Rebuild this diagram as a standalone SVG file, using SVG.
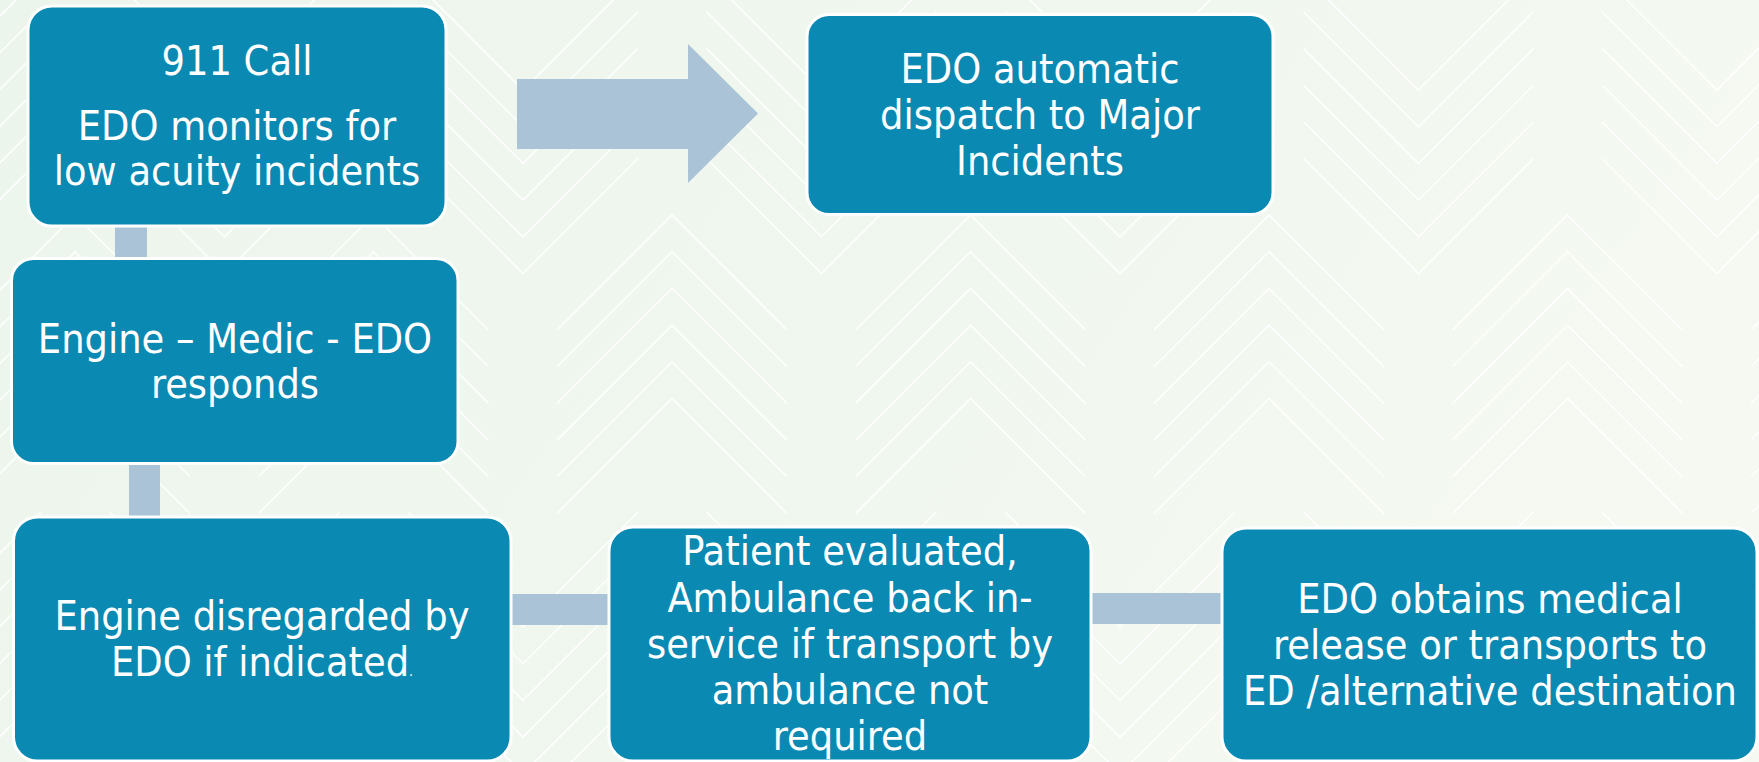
<svg xmlns="http://www.w3.org/2000/svg" xmlns:xlink="http://www.w3.org/1999/xlink" width="1759" height="762" viewBox="0 0 1759 762">
<defs>
<style>
.node rect{fill:#0A89B2;stroke:#FFFFFF;stroke-width:3}
.node text{font-family:"DejaVu Sans Condensed","DejaVu Sans",sans-serif;font-stretch:condensed;font-size:41px;fill:#FFFFFF;text-anchor:middle}
.conn{fill:#ABC3D6}
.bgl polyline{fill:none;stroke:#FFFFFF;stroke-width:1.6;stroke-linecap:round;opacity:0.9}
</style>
<linearGradient id="bgGrad" x1="0" y1="0" x2="1" y2="0.3">
<stop offset="0" stop-color="#ECF5EC"/>
<stop offset="0.6" stop-color="#F0F7EE"/>
<stop offset="1" stop-color="#F5F9F1"/>
</linearGradient>
<g id="dv" class="bgl">
<polyline points="-114.5,-114.5 0,0 114.5,-114.5"/>
<polyline points="-114.5,-77.8 0,36.7 114.5,-77.8"/>
<polyline points="-114.5,-41.1 0,73.4 114.5,-41.1"/>
<polyline points="-114.5,-4.4 0,110.1 114.5,-4.4"/>
<polyline points="-114.5,32.3 0,146.8 114.5,32.3"/>
<polyline points="-114.5,69 0,183.5 114.5,69"/>
</g>
<g id="uv" class="bgl">
<polyline points="-114.5,114.5 0,0 114.5,114.5"/>
<polyline points="-114.5,151.2 0,36.7 114.5,151.2"/>
<polyline points="-114.5,187.9 0,73.4 114.5,187.9"/>
<polyline points="-114.5,224.6 0,110.1 114.5,224.6"/>
<polyline points="-114.5,261.3 0,146.8 114.5,261.3"/>
<polyline points="-114.5,298 0,183.5 114.5,298"/>
</g>
</defs>
<rect x="0" y="0" width="1759" height="762" fill="url(#bgGrad)"/>
<g id="background-pattern">
<use xlink:href="#dv" x="-74" y="90"/>
<use xlink:href="#dv" x="224.5" y="90"/>
<use xlink:href="#dv" x="523" y="90"/>
<use xlink:href="#dv" x="821.5" y="90"/>
<use xlink:href="#dv" x="1120" y="90"/>
<use xlink:href="#dv" x="1418.5" y="90"/>
<use xlink:href="#dv" x="1717" y="90"/>
<use xlink:href="#dv" x="-74" y="627"/>
<use xlink:href="#dv" x="224.5" y="627"/>
<use xlink:href="#dv" x="523" y="627"/>
<use xlink:href="#dv" x="821.5" y="627"/>
<use xlink:href="#dv" x="1120" y="627"/>
<use xlink:href="#dv" x="1418.5" y="627"/>
<use xlink:href="#dv" x="1717" y="627"/>
<use xlink:href="#uv" x="75" y="215"/>
<use xlink:href="#uv" x="373.5" y="215"/>
<use xlink:href="#uv" x="672" y="215"/>
<use xlink:href="#uv" x="970.5" y="215"/>
<use xlink:href="#uv" x="1269" y="215"/>
<use xlink:href="#uv" x="1567.5" y="215"/>
<use xlink:href="#uv" x="1866" y="215"/>
</g>
<g id="connectors">
<rect class="conn" x="115" y="222" width="32" height="40"/>
<rect class="conn" x="129" y="460" width="31" height="62"/>
<rect class="conn" x="506" y="594" width="106" height="31"/>
<rect class="conn" x="1087" y="593" width="138" height="31"/>
<polygon class="conn" points="517,79 688,79 688,44 758,113.5 688,183 688,149 517,149"/>
</g>
<g id="node-911-call" class="node">
<rect x="28" y="6" width="418" height="220" rx="24"/>
<text x="237" y="75">911 Call</text>
<text x="237" y="140">EDO monitors for</text>
<text x="237" y="185">low acuity incidents</text>
</g>
<g id="node-responds" class="node">
<rect x="11.5" y="258.5" width="446.5" height="205" rx="22"/>
<text x="235" y="353">Engine – Medic - EDO</text>
<text x="235" y="398">responds</text>
</g>
<g id="node-disregarded" class="node">
<rect x="13.5" y="517" width="497.5" height="244" rx="24"/>
<text x="262" y="630">Engine disregarded by</text>
<text x="262" y="676">EDO if indicated<tspan font-size="14px">.</tspan></text>
</g>
<g id="node-patient-evaluated" class="node">
<rect x="609" y="527" width="482" height="234" rx="24"/>
<text x="850" y="565">Patient evaluated,</text>
<text x="850" y="612">Ambulance back in-</text>
<text x="850" y="658">service if transport by</text>
<text x="850" y="704">ambulance not</text>
<text x="850" y="750">required</text>
</g>
<g id="node-medical-release" class="node">
<rect x="1222" y="528" width="535" height="233" rx="24"/>
<text x="1490" y="613">EDO obtains medical</text>
<text x="1490" y="659">release or transports to</text>
<text x="1490" y="705">ED /alternative destination</text>
</g>
<g id="node-major-incidents" class="node">
<rect x="807" y="14.5" width="466" height="200" rx="22"/>
<text x="1040" y="83">EDO automatic</text>
<text x="1040" y="129">dispatch to Major</text>
<text x="1040" y="175">Incidents</text>
</g>
</svg>
